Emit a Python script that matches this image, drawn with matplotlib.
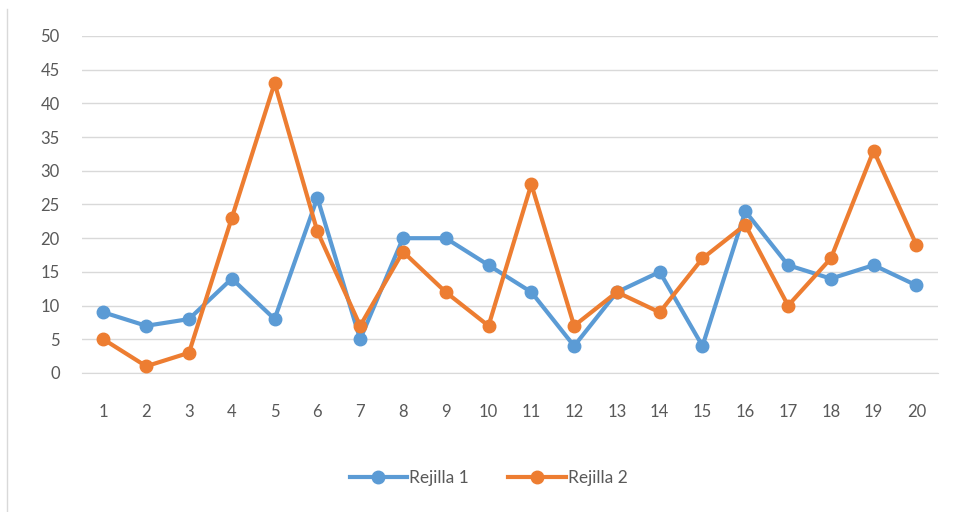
import matplotlib.pyplot as plt
from matplotlib.lines import Line2D

# datos de las dos rejillas
muestras = list(range(1, 21))
rejilla1 = [9, 7, 8, 14, 8, 26, 5, 20, 20, 16, 12, 4, 12, 15, 4, 24, 16, 14, 16, 13]
rejilla2 = [5, 1, 3, 23, 43, 21, 7, 18, 12, 7, 28, 7, 12, 9, 17, 22, 10, 17, 33, 19]

azul = "#5B9BD5"
naranja = "#ED7D31"

plt.rcParams["font.family"] = ["Lato", "DejaVu Sans"]

fig = plt.figure(figsize=(9.56, 5.12), dpi=100)
ax = fig.add_axes([0.0858, 0.2715, 0.8952, 0.6582])

ax.plot(muestras, rejilla1, color=azul, marker="o", markersize=9,
        linewidth=3, label="Rejilla 1", zorder=3)
ax.plot(muestras, rejilla2, color=naranja, marker="o", markersize=9,
        linewidth=3, label="Rejilla 2", zorder=3)

ax.set_xlim(0.5, 20.5)
ax.set_ylim(0, 50)
ax.set_xticks(muestras)
ax.set_yticks(range(0, 51, 5))

ax.grid(axis="y", color="#D9D9D9", linewidth=1)
ax.set_axisbelow(True)
for s in ["top", "right", "left"]:
    ax.spines[s].set_visible(False)
ax.spines["bottom"].set_color("#D9D9D9")
ax.tick_params(length=0, labelsize=12, colors="#595959")
ax.tick_params(axis="x", pad=22)
ax.tick_params(axis="y", pad=16)

# borde izquierdo del área del gráfico
fig.add_artist(Line2D([0.0075, 0.0075], [0.0, 0.982], color="#D9D9D9", linewidth=1))

fig.legend(loc="center", bbox_to_anchor=(0.511, 0.066), ncol=2, frameon=False,
           fontsize=12.5, labelcolor="#595959", handlelength=3.3, columnspacing=2.3,
           handletextpad=0.1)

fig.savefig("out.png", dpi=100)
